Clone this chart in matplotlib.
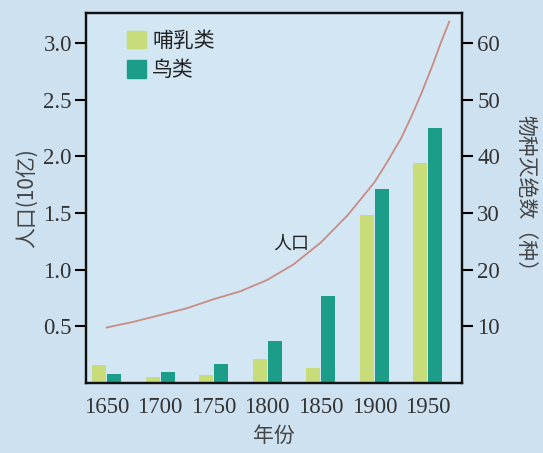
#!/usr/bin/env python3

import matplotlib
matplotlib.use('Agg')
import matplotlib.pyplot as plt
from matplotlib.patches import Patch

# data
years = [1650, 1700, 1750, 1800, 1850, 1900, 1950]
mammals = [3.2, 1.0, 1.5, 4.2, 2.6, 29.6, 38.8]   # species extinct
birds = [1.6, 2.0, 3.3, 7.5, 15.3, 34.2, 45.0]
pop_years = [1650, 1675, 1700, 1725, 1750, 1775, 1800, 1825, 1850, 1875, 1900, 1912, 1925, 1935, 1945, 1955, 1962, 1970]
pop = [0.49, 0.54, 0.60, 0.66, 0.74, 0.81, 0.91, 1.05, 1.24, 1.48, 1.77, 1.95, 2.16, 2.36, 2.58, 2.82, 3.0, 3.19]

# style
bg = '#cde1f1'
c_mam = '#c9dc7a'
c_bird = '#1b9d8a'
c_pop = '#c98c84'
serif = ['Liberation Serif', 'DejaVu Serif']
cjk = ['Noto Sans CJK SC', 'DejaVu Sans']
off = 7; bw = 13

fig = plt.figure(figsize=(5.43, 4.53), dpi=100, facecolor=bg)
ax = fig.add_axes([0.158, 0.1545, 0.693, 0.8165])
ax2 = ax.twinx()

ax2.bar([y - off for y in years], mammals, width=bw, color=c_mam, zorder=2)
ax2.bar([y + off for y in years], birds, width=bw, color=c_bird, zorder=2)
ax.plot(pop_years, pop, color=c_pop, lw=1.3, zorder=3)
ax.set_zorder(ax2.get_zorder() + 1)
ax.patch.set_visible(False)
ax2.patch.set_visible(True)
ax2.patch.set_facecolor('#d3e6f4')

ax.set_xlim(1630.5, 1982)
ax.set_ylim(0, 3.265)
ax2.set_ylim(0, 65.3)

ax.set_xticks(years)
ax.set_xticklabels([str(y) for y in years], family=serif, fontsize=16.5, color='#333333')
ax.set_yticks([0.5, 1.0, 1.5, 2.0, 2.5, 3.0])
ax.set_yticklabels(['0.5', '1.0', '1.5', '2.0', '2.5', '3.0'], family=serif, fontsize=16.5, color='#333333')
ax2.set_yticks([10, 20, 30, 40, 50, 60])
ax2.set_yticklabels(['10', '20', '30', '40', '50', '60'], family=serif, fontsize=16.5, color='#333333')

ax.tick_params(axis='x', length=0, pad=10)
ax.tick_params(axis='y', length=8, width=1.5, direction='out', pad=2)
ax2.tick_params(axis='y', length=8, width=1.5, direction='out', pad=3)
for a in (ax, ax2):
    for s in a.spines.values():
        s.set_linewidth(1.6)
        s.set_color('#111111')

ax.set_ylabel('人口(10亿)', family=cjk, fontsize=15, color='#444444', labelpad=4)
ax2.set_ylabel('物种灭绝数（种）', family=cjk, fontsize=15, color='#444444', rotation=-90, labelpad=26)
ax.set_xlabel('年份', family=cjk, fontsize=15, color='#444444', labelpad=5)

ax.text(1822, 1.23, '人口', family=cjk, fontsize=13, color='#222222', ha='center', va='center')

handles = [Patch(color=c_mam, label='哺乳类'), Patch(color=c_bird, label='鸟类')]
ax.legend(handles=handles, loc='upper left', bbox_to_anchor=(0.06, 1.005), frameon=False,
          prop={'family': cjk, 'size': 15}, handlelength=0.9, handleheight=0.9,
          handletextpad=0.3, labelspacing=0.35, labelcolor='#222222')

fig.savefig('out.png', dpi=100, facecolor=bg)
plt.close()
